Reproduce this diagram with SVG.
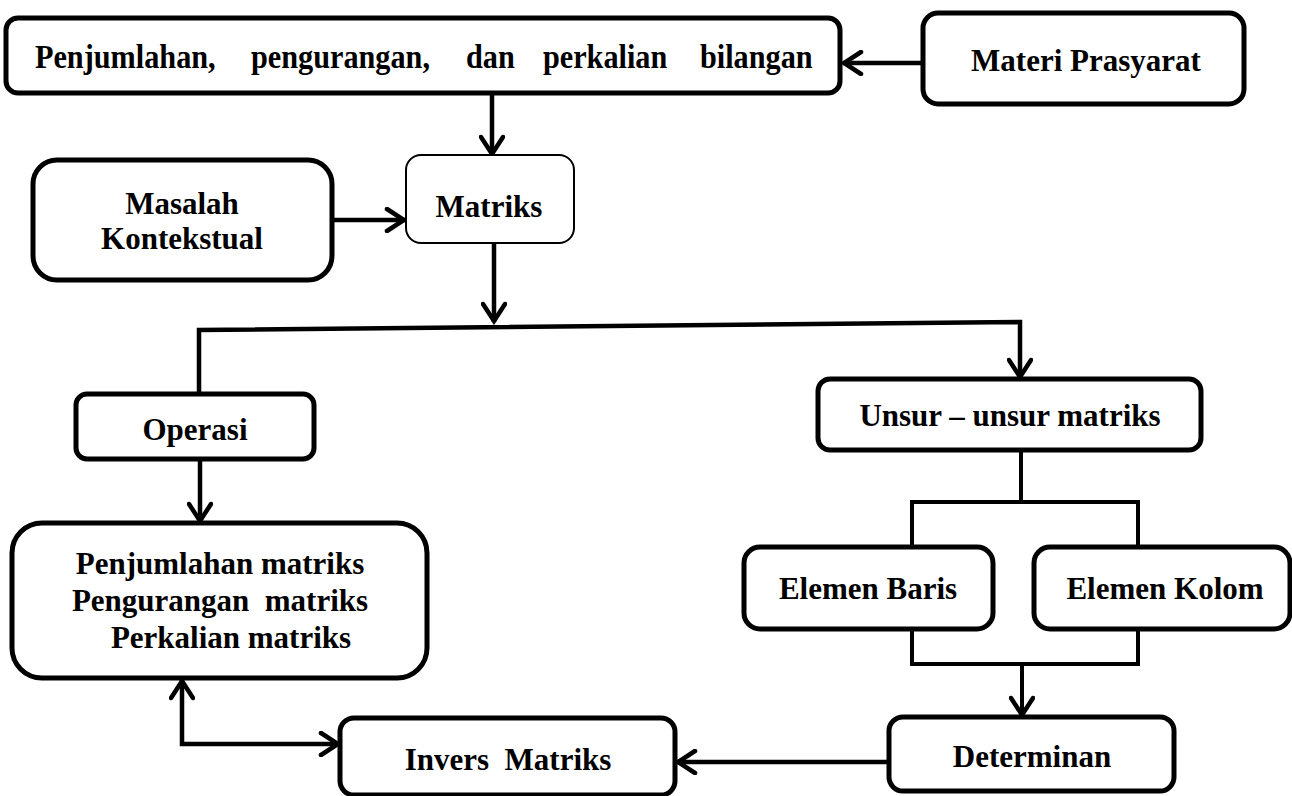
<svg xmlns="http://www.w3.org/2000/svg" width="1292" height="796" viewBox="0 0 1292 796">
<style>
.box{fill:#fff;stroke:#000;stroke-width:5}
.thin{fill:#fff;stroke:#000;stroke-width:2}
.t{font-family:"Liberation Serif","Times New Roman",serif;font-weight:bold;font-size:31px;fill:#000;text-anchor:middle}
.title{font-family:"Liberation Serif","Times New Roman",serif;font-weight:bold;font-size:34px;fill:#000}
.c{fill:none;stroke:#000;stroke-width:4.5}
.cl{fill:none;stroke:#000;stroke-width:4}
</style>
<defs>
<marker id="ah" viewBox="0 0 24 26" refX="21" refY="13" markerWidth="24" markerHeight="26" markerUnits="userSpaceOnUse" orient="auto-start-reverse">
<path d="M3,2 L20,13 L3,24" fill="none" stroke="#000" stroke-width="4.5" stroke-linecap="round" stroke-linejoin="miter"/>
</marker>
</defs>
<rect width="1292" height="796" fill="#fff"/>
<g id="connectors">
<path class="c" d="M923,63 L843,63" marker-end="url(#ah)"/>
<path class="c" d="M492,93 L492,155" marker-end="url(#ah)"/>
<path class="c" d="M332,220 L405,220" marker-end="url(#ah)"/>
<path class="c" d="M494,243 L494,322" marker-end="url(#ah)"/>
<path class="c" d="M199,393 L199,330 L1020,322 L1020,378" marker-end="url(#ah)"/>
<path class="c" d="M200,459 L200,522" marker-end="url(#ah)"/>
<path class="cl" d="M1021,450 L1021,502"/>
<path class="cl" d="M912,545 L912,502 L1138,502 L1138,545"/>
<path class="cl" d="M912,624 L912,664 L1138,664 L1138,624"/>
<path class="cl" d="M1022,664 L1022,716" marker-end="url(#ah)"/>
<path class="c" d="M889,762 L677,762" marker-end="url(#ah)"/>
<path class="c" d="M182,680 L182,744 L339,744" marker-start="url(#ah)" marker-end="url(#ah)"/>
</g>
<g id="n-top">
<rect class="box" x="6" y="18" width="834" height="75" rx="12"/>
<text class="title" transform="scale(0.89,1)" y="68"><tspan x="39.3">Penjumlahan,</tspan><tspan x="282">pengurangan,</tspan><tspan x="523.6">dan</tspan><tspan x="610">perkalian</tspan><tspan x="786.5">bilangan</tspan></text>
</g>
<g id="n-materi">
<rect class="box" x="923" y="13" width="321" height="91" rx="15"/>
<text class="t" x="1086" y="71" font-size="32">Materi Prasyarat</text>
</g>
<g id="n-masalah">
<rect class="box" x="33" y="160" width="299" height="120" rx="24"/>
<text class="t" x="182" y="214">Masalah</text>
<text class="t" x="182" y="249">Kontekstual</text>
</g>
<g id="n-matriks">
<rect class="thin" x="406" y="155" width="168" height="88" rx="15"/>
<text class="t" x="489" y="217">Matriks</text>
</g>
<g id="n-operasi">
<rect class="box" x="76" y="394" width="238" height="65" rx="11"/>
<text class="t" x="195" y="440">Operasi</text>
</g>
<g id="n-operasi-list">
<rect class="box" x="12" y="523" width="415" height="155" rx="30"/>
<text class="t" x="220" y="574">Penjumlahan matriks</text>
<text class="t" x="220" y="611" xml:space="preserve">Pengurangan  matriks</text>
<text class="t" x="231" y="648">Perkalian matriks</text>
</g>
<g id="n-unsur">
<rect class="box" x="818" y="379" width="383" height="71" rx="12"/>
<text class="t" x="1010" y="426">Unsur – unsur matriks</text>
</g>
<g id="n-baris">
<rect class="box" x="744" y="547" width="249" height="82" rx="16"/>
<text class="t" x="868" y="599">Elemen Baris</text>
</g>
<g id="n-kolom">
<rect class="box" x="1034" y="547" width="256" height="82" rx="16"/>
<text class="t" x="1165" y="599">Elemen Kolom</text>
</g>
<g id="n-determinan">
<rect class="box" x="889" y="717" width="285" height="74" rx="14"/>
<text class="t" x="1032" y="767">Determinan</text>
</g>
<g id="n-invers">
<rect class="box" x="340" y="718" width="335" height="77" rx="14"/>
<text class="t" x="508" y="770" xml:space="preserve">Invers  Matriks</text>
</g>
</svg>
